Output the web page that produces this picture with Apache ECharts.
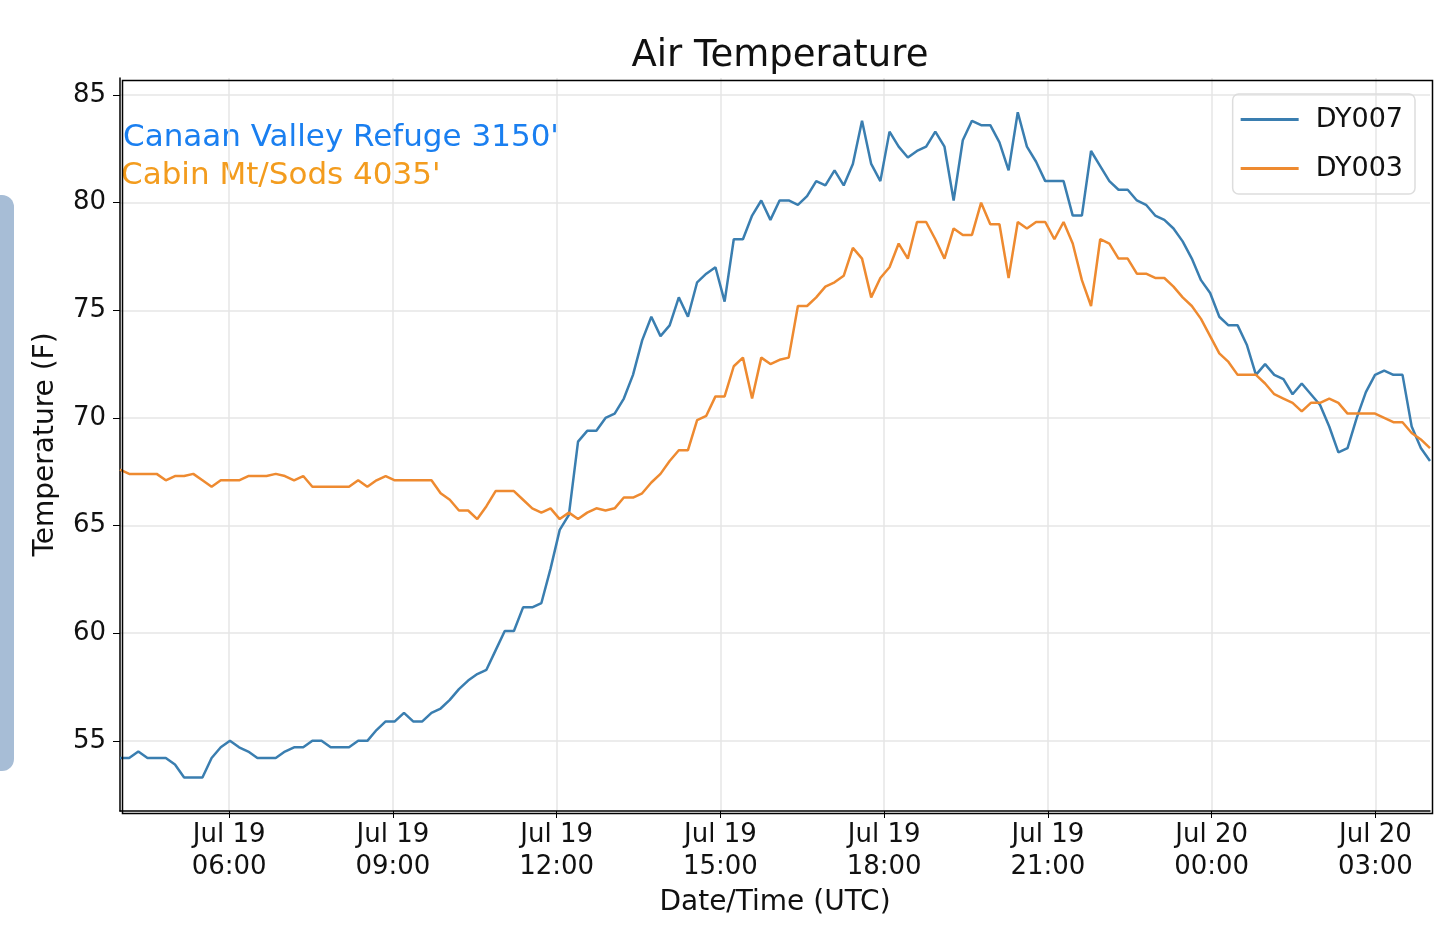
<!DOCTYPE html>
<html>
<head>
<meta charset="utf-8">
<script src="https://cdn.jsdelivr.net/npm/echarts@6/dist/echarts.min.js"></script>
<style>html,body{margin:0;padding:0;background:#fff}#chart{width:1437px;height:945px}</style>
</head>
<body>
<div id="chart"></div>
<script>
// readings, Jul 19 04:00 UTC .. Jul 20 04:00 UTC (x = hours of Jul 19)
var startHour = 4;
var stepHours = 24 / 143;

var dy007 = [
 54.2,54.2,54.5,54.2,54.2,54.2,
 53.9,53.3,53.3,53.3,54.2,54.7,
 55.0,54.7,54.5,54.2,54.2,54.2,
 54.5,54.7,54.7,55.0,55.0,54.7,
 54.7,54.7,55.0,55.0,55.5,55.9,
 55.9,56.3,55.9,55.9,56.3,56.5,
 56.9,57.4,57.8,58.1,58.3,59.2,
 60.1,60.1,61.2,61.2,61.4,63.0,
 64.8,65.5,68.9,69.4,69.4,70.0,
 70.2,70.9,72.0,73.6,74.7,73.8,
 74.3,75.6,74.7,76.3,76.7,77.0,
 75.4,78.3,78.3,79.4,80.1,79.2,
 80.1,80.1,79.9,80.3,81.0,80.8,
 81.5,80.8,81.8,83.8,81.8,81.0,
 83.3,82.6,82.1,82.4,82.6,83.3,
 82.6,80.1,82.9,83.8,83.6,83.6,
 82.8,81.5,84.2,82.6,81.9,81.0,
 81.0,81.0,79.4,79.4,82.4,81.7,
 81.0,80.6,80.6,80.1,79.9,79.4,
 79.2,78.8,78.2,77.4,76.4,75.8,
 74.7,74.3,74.3,73.4,72.0,72.5,
 72.0,71.8,71.1,71.6,71.1,70.6,
 69.6,68.4,68.6,70.0,71.2,72.0,
 72.2,72.0,72.0,69.6,68.6,68.0
];
var dy003 = [
 67.6,67.4,67.4,67.4,67.4,67.1,
 67.3,67.3,67.4,67.1,66.8,67.1,
 67.1,67.1,67.3,67.3,67.3,67.4,
 67.3,67.1,67.3,66.8,66.8,66.8,
 66.8,66.8,67.1,66.8,67.1,67.3,
 67.1,67.1,67.1,67.1,67.1,66.5,
 66.2,65.7,65.7,65.3,65.9,66.6,
 66.6,66.6,66.2,65.8,65.6,65.8,
 65.3,65.6,65.3,65.6,65.8,65.7,
 65.8,66.3,66.3,66.5,67.0,67.4,
 68.0,68.5,68.5,69.9,70.1,71.0,
 71.0,72.4,72.8,70.9,72.8,72.5,
 72.7,72.8,75.2,75.2,75.6,76.1,
 76.3,76.6,77.9,77.4,75.6,76.5,
 77.0,78.1,77.4,79.1,79.1,78.3,
 77.4,78.8,78.5,78.5,80.0,79.0,
 79.0,76.5,79.1,78.8,79.1,79.1,
 78.3,79.1,78.1,76.4,75.2,78.3,
 78.1,77.4,77.4,76.7,76.7,76.5,
 76.5,76.1,75.6,75.2,74.6,73.8,
 73.0,72.6,72.0,72.0,72.0,71.6,
 71.1,70.9,70.7,70.3,70.7,70.7,
 70.9,70.7,70.2,70.2,70.2,70.2,
 70.0,69.8,69.8,69.3,69.0,68.6
];
var yTicks = [55, 60, 65, 70, 75, 80, 85];
var xTicks = [6, 9, 12, 15, 18, 21, 24, 27];   // hours of Jul 19 (UTC)

function toPairs(arr) {
  return arr.map(function (v, i) { return [startHour + i * stepHours, v]; });
}
function pad(n) { return (n < 10 ? '0' : '') + n; }

var font = 'DejaVu Sans';
var chart = echarts.init(document.getElementById('chart'));
chart.setOption({
  animation: false,
  textStyle: { fontFamily: font },
  title: {
    text: 'Air Temperature', left: 775, top: 33, textAlign: 'center',
    textStyle: { fontFamily: font, fontSize: 37, fontWeight: 'normal', color: '#111' }
  },
  legend: {
    right: 22, top: 94, orient: 'vertical', itemWidth: 58, itemHeight: 3, itemGap: 22,
    padding: [12, 12, 12, 8], borderColor: '#ddd', borderWidth: 1.5, borderRadius: 6,
    icon: 'rect',
    textStyle: { fontFamily: font, fontSize: 27, color: '#111', padding: [0, 0, 0, 12] },
    data: ['DY007', 'DY003']
  },
  grid: { left: 120, right: 7, top: 78, bottom: 134 },
  xAxis: {
    type: 'value', min: 4, max: 28,
    name: 'Date/Time (UTC)', nameLocation: 'middle', nameGap: 78,
    nameTextStyle: { fontFamily: font, fontSize: 28, color: '#111' },
    axisLine: { lineStyle: { color: '#000', width: 1.5 } },
    axisTick: { customValues: xTicks, length: 7, lineStyle: { color: '#000' } },
    splitLine: { show: true, lineStyle: { color: '#e6e6e6', width: 1.5 } },
    axisLabel: {
      customValues: xTicks, fontFamily: font, fontSize: 26, color: '#111', lineHeight: 32,
      formatter: function (v) {
        var day = v >= 24 ? 20 : 19;
        return 'Jul ' + day + '\n' + pad(Math.round(v) % 24) + ':00';
      }
    }
  },
  yAxis: {
    type: 'value', min: 51.74, max: 85.79,
    name: 'Temperature (F)', nameLocation: 'middle', nameGap: 60, nameRotate: 90,
    nameTextStyle: { fontFamily: font, fontSize: 28, color: '#111' },
    axisLine: { show: true, lineStyle: { color: '#000', width: 1.5 } },
    axisTick: { show: true, customValues: yTicks, length: 7, lineStyle: { color: '#000' } },
    splitLine: { show: true, lineStyle: { color: '#e6e6e6', width: 1.5 } },
    axisLabel: { customValues: yTicks, fontFamily: font, fontSize: 26, color: '#111', margin: 14 }
  },
  graphic: [
    { type: 'rect', left: -20, top: 195, shape: { width: 34, height: 576, r: 12 }, style: { fill: '#a7bdd6' } },
    { type: 'rect', left: 120, top: 78, shape: { width: 1310, height: 733 }, style: { fill: 'none', stroke: '#000', lineWidth: 1.5 }, z: 10 },
    { type: 'text', left: 123, top: 122, style: { text: "Canaan Valley Refuge 3150'", fill: '#1a7ff0', fontSize: 31, fontFamily: font } },
    { type: 'text', left: 121, top: 160, style: { text: "Cabin Mt/Sods 4035'", fill: '#f39c1e', fontSize: 31, fontFamily: font } }
  ],
  series: [
    { name: 'DY007', type: 'line', data: toPairs(dy007), showSymbol: false, color: '#3a7eb0', lineStyle: { width: 2.5 } },
    { name: 'DY003', type: 'line', data: toPairs(dy003), showSymbol: false, color: '#ee8a30', lineStyle: { width: 2.5 } }
  ]
});
</script>
</body>
</html>
